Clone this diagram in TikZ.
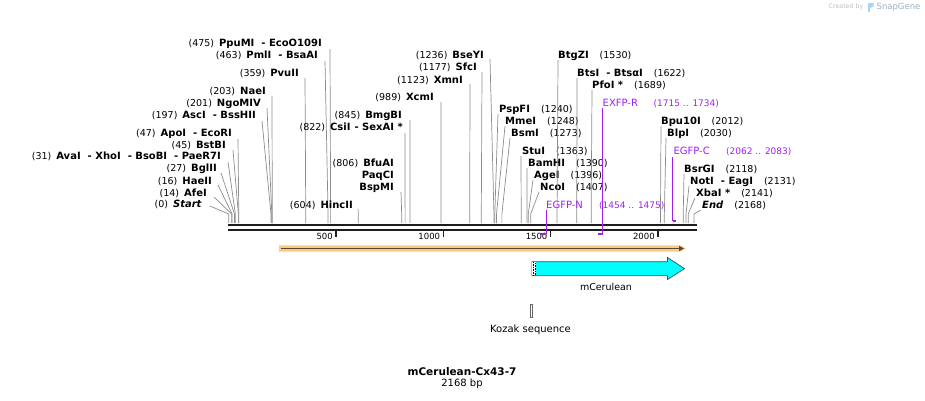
\documentclass[tikz,border=0pt]{standalone}
\usepackage{fontspec}
\setmainfont{DejaVu Sans}
\usetikzlibrary{arrows.meta}

\definecolor{sitegray}{HTML}{8C8C8C}
\definecolor{dnablack}{HTML}{1E1E1E}
\definecolor{primerviolet}{HTML}{A020F0}
\definecolor{featorange}{HTML}{FBCB7F}
\definecolor{featbrown}{HTML}{5A4830}
\definecolor{cdscyan}{HTML}{00FFFF}
\definecolor{markgray}{HTML}{9AB0C4}
\definecolor{markblue}{HTML}{A9D4F5}

\newcommand\posn[1]{{\fontsize{9.5}{11}\selectfont #1}}

\tikzset{
  cut/.style={draw=sitegray, line width=0.7pt},
  enzL/.style={anchor=base east, inner sep=0pt},
  enzR/.style={anchor=base west, inner sep=0pt},
  primer/.style={draw=primerviolet, line width=1pt},
  plbl/.style={anchor=base west, inner sep=0pt, text=primerviolet},
}

\begin{document}
\begin{tikzpicture}[x=1pt,y=-1pt,font=\fontsize{10}{12}\selectfont]
\useasboundingbox (0,0) rectangle (925,400);

% backbone, two strands
\coordinate (bbL) at (227.5,225.3);
\coordinate (bbR) at (697,225.3);
\draw[dnablack, line width=2.3pt] (bbL) -- (bbR);
\draw[dnablack, line width=2.4pt] ([yshift=-4.5pt]bbL) -- ([yshift=-4.5pt]bbR);

% ruler
\foreach \v in {500,1000,1500,2000}{
  \coordinate (tk\v) at ({228.7+0.2146*\v},230);
  \draw[dnablack, line width=1.5pt] (tk\v) -- ++(0,7);
  \node[anchor=base east, inner sep=0pt, font=\fontsize{8.5}{10}\selectfont] (tl\v) at ([xshift=-3pt,yshift=-9pt]tk\v) {\v};
}

% sites, labels on the left
\foreach \id/\lx/\ly/\px/\py/\bp/\nb/\nm in {
  a/322/46/330/49/475/(475)/{PpuMI\hspace{7pt}- EcoO109I},
  b/318/58/325/61/463/(463)/{PmlI\hspace{7pt}- BsaAI},
  c/299/76/305/78/359/(359)/PvuII,
  d/266/94/272/96/203/(203)/NaeI,
  e/261/106/267/108/201/(201)/NgoMIV,
  f/256/118/262/121/197/(197)/{AscI\hspace{7pt}- BssHII},
  g/232/136.5/238/139/47/(47)/{ApoI\hspace{7pt}- EcoRI},
  h/226/148.5/233/150/45/(45)/BstBI,
  i/221/159.5/228/162/31/(31)/{AvaI\hspace{7pt}- XhoI\hspace{7pt}- BsoBI\hspace{7pt}- PaeR7I},
  j/217/171/221/173/27/(27)/BglII,
  k/212/184/218/185/16/(16)/HaeII,
  m/207/196/214/197/14/(14)/AfeI,
  n/202/207.5/210/206/0/(0)/{\itshape Start},
  o/403/130/405/133/822/(822)/{CsiI\hspace{4pt}- SexAI *},
  p/402/118/410/120/845/(845)/BmgBI,
  v/394/166/401/192/806/(806)/BfuAI,
  q/353/208/358/209/604/(604)/HincII,
  r/434/100/441/102/989/(989)/XcmI,
  s/463/83/470/84/1123/(1123)/XmnI,
  t/477/70/482/72/1177/(1177)/SfcI,
  u/484/58/490/59/1236/(1236)/BseYI}{
  \coordinate (t\id) at (\px,\py);
  \coordinate (s\id) at ({228.7+0.2146*\bp},223);
  \node[enzL] (l\id) at (\lx,\ly) {\posn{\nb}\hspace{5pt}\textbf{\nm}};
  \draw[cut] (t\id) -- ([yshift=9pt]s\id) -- (s\id);
}
\node[enzL] (lv2) at (394,178) {\textbf{PaqCI}};
\node[enzL] (lv3) at (394,190) {\textbf{BspMI}};

% sites, labels on the right
\foreach \id/\lx/\ly/\px/\py/\bp/\nm/\nb in {
  A/499/112/498/114/1240/PspFI/(1240),
  B/505/124/505/126/1248/MmeI/(1248),
  C/511/136/510/138/1273/BsmI/(1273),
  D/522/154/521/156/1363/StuI/(1363),
  E/528/166/527/168/1390/BamHI/(1390),
  F/534/178/533/180/1396/AgeI/(1396),
  G/540/190/539/192/1407/NcoI/(1407),
  H/558/58/558/60/1530/BtgZI/(1530),
  I/577/76/577/78/1622/{BtsI\hspace{7pt}- BtsαI}/(1622),
  J/592/88/592/90/1689/{PfoI *}/(1689),
  K/661/124/661/126/2012/Bpu10I/(2012),
  L/667/136/666/138/2030/BlpI/(2030),
  M/684/172/684/174/2118/BsrGI/(2118),
  N/690/184/689/186/2131/{NotI\hspace{7pt}- EagI}/(2131),
  O/696/196/695/198/2141/{XbaI *}/(2141),
  P/702/208/701/210/2168/{\itshape End}/(2168)}{
  \coordinate (t\id) at (\px,\py);
  \coordinate (s\id) at ({228.7+0.2146*\bp},223);
  \node[enzR] (l\id) at (\lx,\ly) {\textbf{\nm}\hspace{11pt}\posn{\nb}};
  \draw[cut] (t\id) -- ([yshift=9pt]s\id) -- (s\id);
}

% primers
\node[plbl] (egfpN) at (546,208) {EGFP-N};
\node[plbl, font=\fontsize{9}{11}\selectfont] (egfpNr) at (599,208) {(1454 .. 1475)};
\coordinate (pN1) at (546,210);
\coordinate (pN2) at (546,233.5);
\draw[primer] (pN1) -- (pN2);
\draw[primer, line width=2pt] (pN2) -- ++(-5.5,0);

\node[plbl] (exfpR) at (602.5,106) {EXFP-R};
\node[plbl, font=\fontsize{9}{11}\selectfont] (exfpRr) at (653.5,106) {(1715 .. 1734)};
\coordinate (pR1) at (602.5,108);
\coordinate (pR2) at (602.5,233.5);
\draw[primer] (pR1) -- (pR2);
\draw[primer, line width=2pt] (pR2) -- ++(-4.5,0);

\node[plbl] (egfpC) at (673.3,154) {EGFP-C};
\node[plbl, font=\fontsize{9}{11}\selectfont] (egfpCr) at (726,154) {(2062 .. 2083)};
\coordinate (pC1) at (672.7,157);
\coordinate (pC2) at (672.7,220.5);
\draw[primer] (pC1) -- (pC2);
\draw[primer, line width=2pt] (pC2) -- ++(3.5,0);

% features
\fill[featorange] (279,245.3) -- (680,245.3) -- (686,248.5) -- (680,251.7) -- (279,251.7) -- cycle;
\coordinate (oL) at (281,248.5);
\coordinate (oR) at (684,248.5);
\draw[featbrown, line width=1.5pt, -{Triangle[length=5pt,width=5pt]}] (oL) -- (oR);

\filldraw[fill=cdscyan, draw=black!70, line width=0.7pt]
  (532,261.7) -- (667.5,261.7) -- (667.5,257.5) -- (684.5,268.6)
  -- (667.5,279.5) -- (667.5,275.7) -- (532,275.7) -- cycle;
\fill[white] (532.4,262.1) rectangle (536,275.3);
\draw[black, line width=0.6pt, dash pattern=on 0.8pt off 0.8pt] (533,262.1) -- (533,275.3);
\draw[black, line width=0.6pt, dash pattern=on 0.8pt off 0.8pt] (535,262.9) -- (535,275.3);
\node[font=\fontsize{9.5}{11}\selectfont] (cds) at (606,287) {mCerulean};

\draw[black!60, fill=white, line width=0.6pt] (529.8,304.3) rectangle (532.6,317.7);
\node (kozak) at (530.5,330) {Kozak sequence};

% title
\node[font=\fontsize{10.5}{12}\selectfont\bfseries] (title) at (462,372) {mCerulean-Cx43-7};
\node (len) at (462,384) {2168 bp};

% watermark
\node[text=black!25, font=\fontsize{6.3}{7}\selectfont] (made) at (846,7) {Created by};
\fill[markblue] (867.5,3) rectangle (870,12);
\fill[markblue] (870,3) -- (873.5,3) -- (873.5,6.5) -- (870,8) -- cycle;
\node[text=markgray, font=\fontsize{8.5}{9}\selectfont] (sg) at (898.5,7) {SnapGene};
\end{tikzpicture}
\end{document}
